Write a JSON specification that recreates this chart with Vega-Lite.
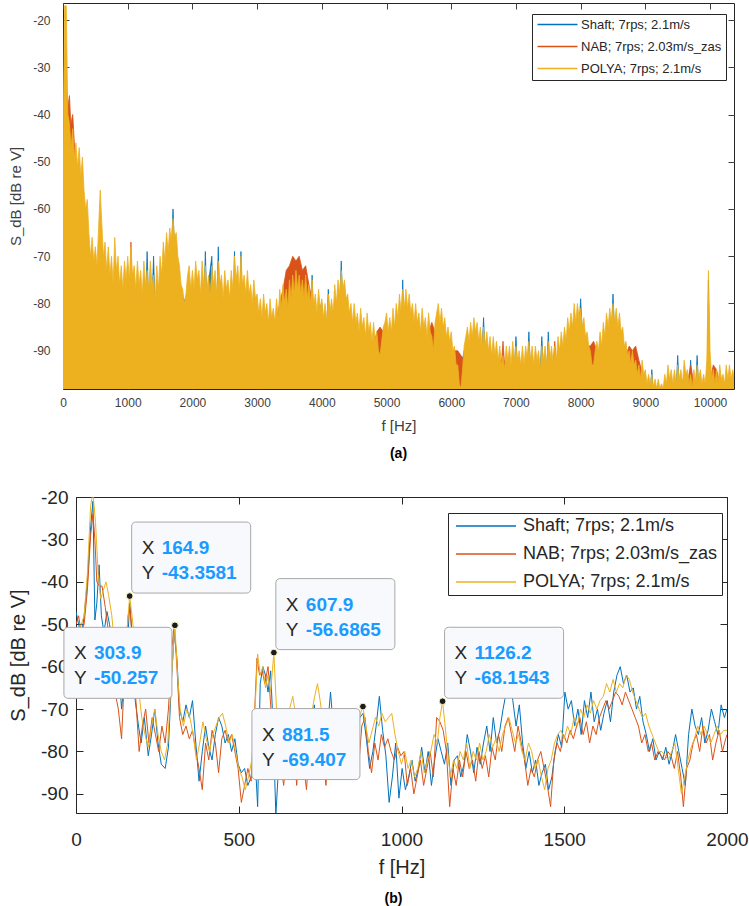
{
"$schema": "https://vega.github.io/schema/vega-lite/v6.json",
"background": "white",
"padding": {"left": 7, "top": 2, "right": 0, "bottom": 0},
"config": {
  "view": {"stroke": "#262626", "strokeWidth": 1},
  "font": "Liberation Sans",
  "axis": {"grid": false, "domain": false, "titleFontWeight": "normal", "labelFlush": false, "labelOverlap": false}
},
"datasets": {
"ta_shaft": [{"f":0,"v":-47},{"f":20,"v":-30},{"f":40,"v":-36},{"f":60,"v":-45},{"f":100,"v":-49},{"f":200,"v":-53},{"f":300,"v":-58},{"f":400,"v":-72},{"f":500,"v":-74},{"f":600,"v":-71},{"f":700,"v":-76},{"f":800,"v":-77},{"f":900,"v":-79},{"f":1000,"v":-77},{"f":1100,"v":-79},{"f":1200,"v":-79},{"f":1280,"v":-79},{"f":1300,"v":-69},{"f":1320,"v":-79},{"f":1380,"v":-78},{"f":1400,"v":-70},{"f":1420,"v":-80},{"f":1500,"v":-76},{"f":1600,"v":-70},{"f":1680,"v":-68},{"f":1700,"v":-60},{"f":1720,"v":-68},{"f":1800,"v":-77},{"f":1900,"v":-80},{"f":2000,"v":-79},{"f":2100,"v":-79},{"f":2180,"v":-79},{"f":2200,"v":-69},{"f":2220,"v":-79},{"f":2300,"v":-70},{"f":2320,"v":-79},{"f":2380,"v":-79},{"f":2400,"v":-68},{"f":2420,"v":-80},{"f":2500,"v":-80},{"f":2600,"v":-79},{"f":2640,"v":-78},{"f":2650,"v":-69},{"f":2660,"v":-78},{"f":2700,"v":-79},{"f":2740,"v":-78},{"f":2750,"v":-69},{"f":2760,"v":-78},{"f":2800,"v":-80},{"f":2900,"v":-81},{"f":3000,"v":-84},{"f":3100,"v":-85},{"f":3200,"v":-85},{"f":3300,"v":-85},{"f":3400,"v":-82},{"f":3500,"v":-81},{"f":3600,"v":-79},{"f":3700,"v":-80},{"f":3800,"v":-81},{"f":3840,"v":-80},{"f":3850,"v":-74},{"f":3860,"v":-80},{"f":3900,"v":-83},{"f":4000,"v":-80},{"f":4020,"v":-85},{"f":4080,"v":-84},{"f":4100,"v":-77},{"f":4120,"v":-83},{"f":4200,"v":-81},{"f":4280,"v":-79},{"f":4300,"v":-71},{"f":4320,"v":-79},{"f":4400,"v":-84},{"f":4500,"v":-86},{"f":4600,"v":-87},{"f":4700,"v":-88},{"f":4800,"v":-90},{"f":4900,"v":-92},{"f":5000,"v":-87},{"f":5100,"v":-86},{"f":5200,"v":-83},{"f":5240,"v":-81},{"f":5250,"v":-75},{"f":5260,"v":-81},{"f":5300,"v":-82},{"f":5400,"v":-85},{"f":5500,"v":-87},{"f":5600,"v":-88},{"f":5700,"v":-91},{"f":5800,"v":-85},{"f":5900,"v":-88},{"f":6000,"v":-91},{"f":6100,"v":-97},{"f":6200,"v":-90},{"f":6300,"v":-88},{"f":6400,"v":-89},{"f":6480,"v":-89},{"f":6500,"v":-83},{"f":6520,"v":-90},{"f":6600,"v":-92},{"f":6700,"v":-93},{"f":6800,"v":-95},{"f":6900,"v":-93},{"f":6980,"v":-93},{"f":7000,"v":-87},{"f":7020,"v":-93},{"f":7100,"v":-94},{"f":7180,"v":-93},{"f":7200,"v":-86},{"f":7220,"v":-93},{"f":7300,"v":-93},{"f":7380,"v":-93},{"f":7400,"v":-87},{"f":7420,"v":-93},{"f":7480,"v":-93},{"f":7500,"v":-86},{"f":7520,"v":-93},{"f":7600,"v":-93},{"f":7700,"v":-90},{"f":7800,"v":-87},{"f":7900,"v":-84},{"f":7980,"v":-84},{"f":8000,"v":-79},{"f":8020,"v":-85},{"f":8100,"v":-90},{"f":8200,"v":-94},{"f":8300,"v":-90},{"f":8400,"v":-86},{"f":8480,"v":-85},{"f":8500,"v":-78},{"f":8520,"v":-85},{"f":8600,"v":-87},{"f":8700,"v":-92},{"f":8800,"v":-94},{"f":8900,"v":-97},{"f":9000,"v":-98},{"f":9080,"v":-98},{"f":9100,"v":-94},{"f":9120,"v":-98},{"f":9200,"v":-98},{"f":9300,"v":-98},{"f":9400,"v":-98},{"f":9480,"v":-97},{"f":9500,"v":-91},{"f":9520,"v":-97},{"f":9600,"v":-96},{"f":9680,"v":-97},{"f":9700,"v":-92},{"f":9720,"v":-98},{"f":9780,"v":-97},{"f":9800,"v":-91},{"f":9820,"v":-97},{"f":9900,"v":-98},{"f":9960,"v":-96},{"f":9975,"v":-75},{"f":9990,"v":-96},{"f":10100,"v":-98},{"f":10200,"v":-98},{"f":10300,"v":-98},{"f":10375,"v":-98}],
"ta_nab": [{"f":0,"v":-50},{"f":40,"v":-40},{"f":60,"v":-35},{"f":80,"v":-38},{"f":100,"v":-36},{"f":120,"v":-42},{"f":150,"v":-40},{"f":200,"v":-52},{"f":300,"v":-57},{"f":400,"v":-72},{"f":500,"v":-74},{"f":600,"v":-70},{"f":700,"v":-77},{"f":800,"v":-78},{"f":900,"v":-79},{"f":1000,"v":-77},{"f":1040,"v":-77},{"f":1050,"v":-67},{"f":1060,"v":-77},{"f":1100,"v":-79},{"f":1200,"v":-80},{"f":1300,"v":-79},{"f":1400,"v":-80},{"f":1500,"v":-76},{"f":1600,"v":-71},{"f":1700,"v":-67},{"f":1800,"v":-78},{"f":1900,"v":-80},{"f":2000,"v":-79},{"f":2100,"v":-80},{"f":2200,"v":-79},{"f":2300,"v":-80},{"f":2400,"v":-80},{"f":2500,"v":-80},{"f":2600,"v":-80},{"f":2700,"v":-80},{"f":2800,"v":-81},{"f":2900,"v":-82},{"f":3000,"v":-84},{"f":3100,"v":-85},{"f":3200,"v":-85},{"f":3300,"v":-83},{"f":3400,"v":-77},{"f":3450,"v":-73},{"f":3500,"v":-72},{"f":3550,"v":-70},{"f":3600,"v":-71},{"f":3650,"v":-70},{"f":3700,"v":-73},{"f":3750,"v":-72},{"f":3800,"v":-76},{"f":3900,"v":-82},{"f":4000,"v":-85},{"f":4100,"v":-84},{"f":4200,"v":-82},{"f":4300,"v":-80},{"f":4400,"v":-84},{"f":4500,"v":-86},{"f":4600,"v":-87},{"f":4700,"v":-88},{"f":4800,"v":-89},{"f":4850,"v":-86},{"f":4900,"v":-85},{"f":4950,"v":-86},{"f":5000,"v":-87},{"f":5100,"v":-86},{"f":5200,"v":-83},{"f":5300,"v":-83},{"f":5400,"v":-85},{"f":5500,"v":-87},{"f":5600,"v":-88},{"f":5700,"v":-84},{"f":5750,"v":-86},{"f":5800,"v":-86},{"f":5900,"v":-88},{"f":6000,"v":-90},{"f":6100,"v":-90},{"f":6150,"v":-91},{"f":6200,"v":-92},{"f":6300,"v":-89},{"f":6400,"v":-90},{"f":6500,"v":-91},{"f":6600,"v":-92},{"f":6700,"v":-92},{"f":6780,"v":-92},{"f":6800,"v":-88},{"f":6820,"v":-92},{"f":6900,"v":-94},{"f":7000,"v":-94},{"f":7100,"v":-94},{"f":7200,"v":-94},{"f":7300,"v":-94},{"f":7400,"v":-94},{"f":7500,"v":-94},{"f":7580,"v":-92},{"f":7600,"v":-88},{"f":7620,"v":-92},{"f":7700,"v":-91},{"f":7800,"v":-88},{"f":7900,"v":-85},{"f":8000,"v":-86},{"f":8100,"v":-89},{"f":8150,"v":-89},{"f":8200,"v":-88},{"f":8250,"v":-90},{"f":8300,"v":-91},{"f":8400,"v":-87},{"f":8500,"v":-85},{"f":8600,"v":-88},{"f":8700,"v":-91},{"f":8750,"v":-89},{"f":8800,"v":-90},{"f":8850,"v":-89},{"f":8900,"v":-92},{"f":9000,"v":-97},{"f":9100,"v":-98},{"f":9200,"v":-98},{"f":9300,"v":-98},{"f":9400,"v":-98},{"f":9500,"v":-98},{"f":9600,"v":-97},{"f":9650,"v":-97},{"f":9700,"v":-93},{"f":9750,"v":-97},{"f":9800,"v":-98},{"f":9900,"v":-98},{"f":9960,"v":-97},{"f":9975,"v":-80},{"f":9990,"v":-97},{"f":10050,"v":-93},{"f":10100,"v":-94},{"f":10150,"v":-97},{"f":10200,"v":-98},{"f":10300,"v":-97},{"f":10375,"v":-98}],
"ta_polya": [{"f":0,"v":-48},{"f":25,"v":-17},{"f":50,"v":-17},{"f":75,"v":-40},{"f":100,"v":-42},{"f":125,"v":-47},{"f":150,"v":-43},{"f":175,"v":-49},{"f":200,"v":-46},{"f":225,"v":-51},{"f":250,"v":-47},{"f":275,"v":-53},{"f":300,"v":-49},{"f":325,"v":-56},{"f":350,"v":-60},{"f":375,"v":-58},{"f":400,"v":-65},{"f":425,"v":-70},{"f":450,"v":-66},{"f":475,"v":-71},{"f":500,"v":-68},{"f":525,"v":-72},{"f":550,"v":-64},{"f":575,"v":-56},{"f":600,"v":-63},{"f":625,"v":-70},{"f":650,"v":-67},{"f":675,"v":-73},{"f":700,"v":-68},{"f":725,"v":-74},{"f":750,"v":-70},{"f":775,"v":-76},{"f":800,"v":-66},{"f":825,"v":-73},{"f":850,"v":-70},{"f":875,"v":-76},{"f":900,"v":-72},{"f":925,"v":-77},{"f":950,"v":-71},{"f":975,"v":-75},{"f":1000,"v":-70},{"f":1025,"v":-75},{"f":1050,"v":-68},{"f":1075,"v":-74},{"f":1100,"v":-72},{"f":1125,"v":-77},{"f":1150,"v":-71},{"f":1175,"v":-76},{"f":1200,"v":-73},{"f":1225,"v":-78},{"f":1250,"v":-71},{"f":1275,"v":-76},{"f":1300,"v":-73},{"f":1325,"v":-77},{"f":1350,"v":-71},{"f":1375,"v":-76},{"f":1400,"v":-74},{"f":1425,"v":-79},{"f":1450,"v":-72},{"f":1475,"v":-77},{"f":1500,"v":-70},{"f":1525,"v":-74},{"f":1550,"v":-67},{"f":1575,"v":-71},{"f":1600,"v":-65},{"f":1625,"v":-69},{"f":1650,"v":-64},{"f":1675,"v":-67},{"f":1700,"v":-62},{"f":1725,"v":-66},{"f":1750,"v":-65},{"f":1775,"v":-70},{"f":1800,"v":-72},{"f":1825,"v":-76},{"f":1850,"v":-77},{"f":1875,"v":-80},{"f":1900,"v":-78},{"f":1925,"v":-74},{"f":1950,"v":-72},{"f":1975,"v":-77},{"f":2000,"v":-73},{"f":2025,"v":-77},{"f":2050,"v":-71},{"f":2075,"v":-75},{"f":2100,"v":-73},{"f":2125,"v":-78},{"f":2150,"v":-71},{"f":2175,"v":-76},{"f":2200,"v":-72},{"f":2225,"v":-77},{"f":2250,"v":-74},{"f":2275,"v":-78},{"f":2300,"v":-72},{"f":2325,"v":-76},{"f":2350,"v":-73},{"f":2375,"v":-78},{"f":2400,"v":-71},{"f":2425,"v":-76},{"f":2450,"v":-74},{"f":2475,"v":-79},{"f":2500,"v":-73},{"f":2525,"v":-77},{"f":2550,"v":-75},{"f":2575,"v":-79},{"f":2600,"v":-73},{"f":2625,"v":-77},{"f":2650,"v":-70},{"f":2675,"v":-75},{"f":2700,"v":-72},{"f":2725,"v":-77},{"f":2750,"v":-70},{"f":2775,"v":-76},{"f":2800,"v":-74},{"f":2825,"v":-78},{"f":2850,"v":-73},{"f":2875,"v":-78},{"f":2900,"v":-76},{"f":2925,"v":-80},{"f":2950,"v":-75},{"f":2975,"v":-79},{"f":3000,"v":-78},{"f":3025,"v":-82},{"f":3050,"v":-79},{"f":3075,"v":-83},{"f":3100,"v":-78},{"f":3125,"v":-82},{"f":3150,"v":-80},{"f":3175,"v":-84},{"f":3200,"v":-79},{"f":3225,"v":-83},{"f":3250,"v":-81},{"f":3275,"v":-84},{"f":3300,"v":-79},{"f":3325,"v":-83},{"f":3350,"v":-77},{"f":3375,"v":-81},{"f":3400,"v":-76},{"f":3425,"v":-80},{"f":3450,"v":-77},{"f":3475,"v":-81},{"f":3500,"v":-75},{"f":3525,"v":-79},{"f":3550,"v":-74},{"f":3575,"v":-78},{"f":3600,"v":-73},{"f":3625,"v":-77},{"f":3650,"v":-74},{"f":3675,"v":-78},{"f":3700,"v":-75},{"f":3725,"v":-79},{"f":3750,"v":-74},{"f":3775,"v":-79},{"f":3800,"v":-76},{"f":3825,"v":-80},{"f":3850,"v":-75},{"f":3875,"v":-80},{"f":3900,"v":-78},{"f":3925,"v":-82},{"f":3950,"v":-77},{"f":3975,"v":-81},{"f":4000,"v":-79},{"f":4025,"v":-83},{"f":4050,"v":-80},{"f":4075,"v":-84},{"f":4100,"v":-78},{"f":4125,"v":-82},{"f":4150,"v":-79},{"f":4175,"v":-82},{"f":4200,"v":-76},{"f":4225,"v":-80},{"f":4250,"v":-75},{"f":4275,"v":-78},{"f":4300,"v":-73},{"f":4325,"v":-77},{"f":4350,"v":-75},{"f":4375,"v":-79},{"f":4400,"v":-78},{"f":4425,"v":-82},{"f":4450,"v":-80},{"f":4475,"v":-84},{"f":4500,"v":-80},{"f":4525,"v":-84},{"f":4550,"v":-82},{"f":4575,"v":-86},{"f":4600,"v":-81},{"f":4625,"v":-85},{"f":4650,"v":-83},{"f":4675,"v":-87},{"f":4700,"v":-82},{"f":4725,"v":-86},{"f":4750,"v":-84},{"f":4775,"v":-88},{"f":4800,"v":-84},{"f":4825,"v":-88},{"f":4850,"v":-86},{"f":4875,"v":-90},{"f":4900,"v":-91},{"f":4925,"v":-88},{"f":4950,"v":-85},{"f":4975,"v":-84},{"f":5000,"v":-82},{"f":5025,"v":-86},{"f":5050,"v":-83},{"f":5075,"v":-86},{"f":5100,"v":-81},{"f":5125,"v":-85},{"f":5150,"v":-80},{"f":5175,"v":-83},{"f":5200,"v":-78},{"f":5225,"v":-82},{"f":5250,"v":-77},{"f":5275,"v":-81},{"f":5300,"v":-77},{"f":5325,"v":-81},{"f":5350,"v":-78},{"f":5375,"v":-82},{"f":5400,"v":-80},{"f":5425,"v":-84},{"f":5450,"v":-80},{"f":5475,"v":-84},{"f":5500,"v":-82},{"f":5525,"v":-86},{"f":5550,"v":-81},{"f":5575,"v":-85},{"f":5600,"v":-83},{"f":5625,"v":-87},{"f":5650,"v":-82},{"f":5675,"v":-86},{"f":5700,"v":-87},{"f":5725,"v":-90},{"f":5750,"v":-84},{"f":5775,"v":-82},{"f":5800,"v":-80},{"f":5825,"v":-84},{"f":5850,"v":-81},{"f":5875,"v":-85},{"f":5900,"v":-83},{"f":5925,"v":-87},{"f":5950,"v":-85},{"f":5975,"v":-88},{"f":6000,"v":-86},{"f":6025,"v":-90},{"f":6050,"v":-89},{"f":6075,"v":-93},{"f":6100,"v":-93},{"f":6125,"v":-97},{"f":6150,"v":-98},{"f":6175,"v":-94},{"f":6200,"v":-89},{"f":6225,"v":-87},{"f":6250,"v":-85},{"f":6275,"v":-88},{"f":6300,"v":-84},{"f":6325,"v":-87},{"f":6350,"v":-83},{"f":6375,"v":-86},{"f":6400,"v":-84},{"f":6425,"v":-88},{"f":6450,"v":-85},{"f":6475,"v":-89},{"f":6500,"v":-85},{"f":6525,"v":-89},{"f":6550,"v":-86},{"f":6575,"v":-90},{"f":6600,"v":-87},{"f":6625,"v":-91},{"f":6650,"v":-87},{"f":6675,"v":-91},{"f":6700,"v":-88},{"f":6725,"v":-92},{"f":6750,"v":-89},{"f":6775,"v":-93},{"f":6800,"v":-91},{"f":6825,"v":-94},{"f":6850,"v":-89},{"f":6875,"v":-92},{"f":6900,"v":-89},{"f":6925,"v":-93},{"f":6950,"v":-88},{"f":6975,"v":-92},{"f":7000,"v":-89},{"f":7025,"v":-92},{"f":7050,"v":-90},{"f":7075,"v":-93},{"f":7100,"v":-89},{"f":7125,"v":-93},{"f":7150,"v":-89},{"f":7175,"v":-92},{"f":7200,"v":-88},{"f":7225,"v":-92},{"f":7250,"v":-89},{"f":7275,"v":-93},{"f":7300,"v":-89},{"f":7325,"v":-92},{"f":7350,"v":-90},{"f":7375,"v":-94},{"f":7400,"v":-89},{"f":7425,"v":-92},{"f":7450,"v":-89},{"f":7475,"v":-93},{"f":7500,"v":-88},{"f":7525,"v":-92},{"f":7550,"v":-89},{"f":7575,"v":-93},{"f":7600,"v":-89},{"f":7625,"v":-92},{"f":7650,"v":-87},{"f":7675,"v":-90},{"f":7700,"v":-86},{"f":7725,"v":-89},{"f":7750,"v":-85},{"f":7775,"v":-88},{"f":7800,"v":-83},{"f":7825,"v":-86},{"f":7850,"v":-82},{"f":7875,"v":-85},{"f":7900,"v":-80},{"f":7925,"v":-84},{"f":7950,"v":-80},{"f":7975,"v":-83},{"f":8000,"v":-81},{"f":8025,"v":-85},{"f":8050,"v":-83},{"f":8075,"v":-87},{"f":8100,"v":-86},{"f":8125,"v":-89},{"f":8150,"v":-90},{"f":8175,"v":-93},{"f":8200,"v":-93},{"f":8225,"v":-90},{"f":8250,"v":-88},{"f":8275,"v":-90},{"f":8300,"v":-86},{"f":8325,"v":-89},{"f":8350,"v":-84},{"f":8375,"v":-87},{"f":8400,"v":-82},{"f":8425,"v":-85},{"f":8450,"v":-81},{"f":8475,"v":-84},{"f":8500,"v":-80},{"f":8525,"v":-84},{"f":8550,"v":-81},{"f":8575,"v":-85},{"f":8600,"v":-82},{"f":8625,"v":-86},{"f":8650,"v":-85},{"f":8675,"v":-89},{"f":8700,"v":-88},{"f":8725,"v":-91},{"f":8750,"v":-90},{"f":8775,"v":-93},{"f":8800,"v":-90},{"f":8825,"v":-93},{"f":8850,"v":-92},{"f":8875,"v":-95},{"f":8900,"v":-93},{"f":8925,"v":-96},{"f":8950,"v":-92},{"f":8975,"v":-95},{"f":9000,"v":-94},{"f":9025,"v":-97},{"f":9050,"v":-95},{"f":9075,"v":-97},{"f":9100,"v":-95},{"f":9125,"v":-98},{"f":9150,"v":-96},{"f":9175,"v":-98},{"f":9200,"v":-96},{"f":9225,"v":-98},{"f":9250,"v":-97},{"f":9275,"v":-98},{"f":9300,"v":-95},{"f":9325,"v":-97},{"f":9350,"v":-93},{"f":9375,"v":-96},{"f":9400,"v":-94},{"f":9425,"v":-97},{"f":9450,"v":-94},{"f":9475,"v":-97},{"f":9500,"v":-93},{"f":9525,"v":-96},{"f":9550,"v":-94},{"f":9575,"v":-97},{"f":9600,"v":-92},{"f":9625,"v":-95},{"f":9650,"v":-94},{"f":9675,"v":-97},{"f":9700,"v":-95},{"f":9725,"v":-98},{"f":9750,"v":-94},{"f":9775,"v":-97},{"f":9800,"v":-93},{"f":9825,"v":-96},{"f":9850,"v":-94},{"f":9875,"v":-97},{"f":9900,"v":-95},{"f":9925,"v":-97},{"f":9950,"v":-92},{"f":9975,"v":-73},{"f":10000,"v":-90},{"f":10025,"v":-96},{"f":10050,"v":-94},{"f":10075,"v":-97},{"f":10100,"v":-94},{"f":10125,"v":-97},{"f":10150,"v":-93},{"f":10175,"v":-96},{"f":10200,"v":-95},{"f":10225,"v":-97},{"f":10250,"v":-93},{"f":10275,"v":-96},{"f":10300,"v":-93},{"f":10325,"v":-96},{"f":10350,"v":-94},{"f":10375,"v":-96}],
"b_shaft": [{"f":0,"v":-47},{"f":8,"v":-50},{"f":16,"v":-53},{"f":25,"v":-48},{"f":35,"v":-40},{"f":45,"v":-27},{"f":52,"v":-21},{"f":58,"v":-49},{"f":64,"v":-45},{"f":71,"v":-36},{"f":78,"v":-48},{"f":86,"v":-52},{"f":95,"v":-47},{"f":103,"v":-50},{"f":112,"v":-55},{"f":120,"v":-60},{"f":130,"v":-58},{"f":140,"v":-70},{"f":150,"v":-62},{"f":158,"v":-55},{"f":165,"v":-45},{"f":172,"v":-52},{"f":182,"v":-68},{"f":192,"v":-74},{"f":200,"v":-78},{"f":210,"v":-72},{"f":222,"v":-81},{"f":232,"v":-76},{"f":242,"v":-70},{"f":252,"v":-78},{"f":262,"v":-83},{"f":274,"v":-84},{"f":284,"v":-79},{"f":294,"v":-62},{"f":302,"v":-52},{"f":310,"v":-58},{"f":318,"v":-70},{"f":328,"v":-73},{"f":338,"v":-69},{"f":348,"v":-72},{"f":358,"v":-68},{"f":368,"v":-78},{"f":378,"v":-87},{"f":388,"v":-80},{"f":398,"v":-74},{"f":408,"v":-79},{"f":418,"v":-82},{"f":428,"v":-76},{"f":438,"v":-72},{"f":448,"v":-74},{"f":458,"v":-78},{"f":468,"v":-76},{"f":478,"v":-80},{"f":488,"v":-77},{"f":498,"v":-83},{"f":508,"v":-85},{"f":518,"v":-84},{"f":528,"v":-88},{"f":538,"v":-86},{"f":548,"v":-78},{"f":558,"v":-93},{"f":566,"v":-64},{"f":574,"v":-60},{"f":582,"v":-62},{"f":590,"v":-66},{"f":598,"v":-61},{"f":606,"v":-75},{"f":614,"v":-95},{"f":622,"v":-84},{"f":632,"v":-79},{"f":642,"v":-76},{"f":652,"v":-84},{"f":662,"v":-80},{"f":672,"v":-75},{"f":682,"v":-82},{"f":692,"v":-70},{"f":702,"v":-76},{"f":712,"v":-72},{"f":722,"v":-80},{"f":732,"v":-69},{"f":742,"v":-78},{"f":752,"v":-72},{"f":762,"v":-83},{"f":772,"v":-75},{"f":782,"v":-66},{"f":792,"v":-76},{"f":802,"v":-82},{"f":812,"v":-78},{"f":822,"v":-74},{"f":832,"v":-80},{"f":842,"v":-76},{"f":852,"v":-82},{"f":862,"v":-78},{"f":872,"v":-72},{"f":882,"v":-71},{"f":892,"v":-77},{"f":902,"v":-84},{"f":912,"v":-80},{"f":922,"v":-74},{"f":932,"v":-67},{"f":942,"v":-75},{"f":952,"v":-81},{"f":962,"v":-92},{"f":972,"v":-86},{"f":982,"v":-78},{"f":992,"v":-91},{"f":1002,"v":-84},{"f":1012,"v":-89},{"f":1022,"v":-86},{"f":1032,"v":-82},{"f":1042,"v":-87},{"f":1052,"v":-84},{"f":1062,"v":-79},{"f":1072,"v":-85},{"f":1082,"v":-80},{"f":1092,"v":-88},{"f":1102,"v":-82},{"f":1112,"v":-77},{"f":1122,"v":-80},{"f":1132,"v":-83},{"f":1142,"v":-78},{"f":1152,"v":-88},{"f":1162,"v":-82},{"f":1172,"v":-81},{"f":1182,"v":-86},{"f":1192,"v":-83},{"f":1202,"v":-76},{"f":1212,"v":-80},{"f":1222,"v":-85},{"f":1232,"v":-79},{"f":1242,"v":-83},{"f":1252,"v":-78},{"f":1262,"v":-74},{"f":1272,"v":-80},{"f":1282,"v":-72},{"f":1292,"v":-78},{"f":1302,"v":-75},{"f":1312,"v":-70},{"f":1322,"v":-66},{"f":1332,"v":-62},{"f":1342,"v":-68},{"f":1352,"v":-74},{"f":1362,"v":-69},{"f":1372,"v":-78},{"f":1382,"v":-84},{"f":1392,"v":-80},{"f":1402,"v":-85},{"f":1412,"v":-82},{"f":1422,"v":-88},{"f":1432,"v":-85},{"f":1442,"v":-83},{"f":1452,"v":-89},{"f":1462,"v":-86},{"f":1472,"v":-80},{"f":1482,"v":-76},{"f":1492,"v":-79},{"f":1502,"v":-66},{"f":1512,"v":-70},{"f":1522,"v":-68},{"f":1532,"v":-74},{"f":1542,"v":-70},{"f":1552,"v":-76},{"f":1562,"v":-68},{"f":1572,"v":-72},{"f":1582,"v":-66},{"f":1592,"v":-73},{"f":1602,"v":-70},{"f":1612,"v":-75},{"f":1622,"v":-71},{"f":1632,"v":-68},{"f":1642,"v":-73},{"f":1652,"v":-66},{"f":1662,"v":-62},{"f":1672,"v":-60},{"f":1682,"v":-64},{"f":1692,"v":-62},{"f":1702,"v":-66},{"f":1712,"v":-65},{"f":1722,"v":-70},{"f":1732,"v":-67},{"f":1742,"v":-73},{"f":1752,"v":-76},{"f":1762,"v":-80},{"f":1772,"v":-77},{"f":1782,"v":-82},{"f":1792,"v":-80},{"f":1802,"v":-82},{"f":1812,"v":-79},{"f":1822,"v":-83},{"f":1832,"v":-80},{"f":1842,"v":-76},{"f":1852,"v":-80},{"f":1862,"v":-84},{"f":1872,"v":-88},{"f":1882,"v":-76},{"f":1892,"v":-70},{"f":1902,"v":-74},{"f":1912,"v":-76},{"f":1922,"v":-72},{"f":1932,"v":-78},{"f":1942,"v":-75},{"f":1952,"v":-70},{"f":1962,"v":-73},{"f":1972,"v":-76},{"f":1982,"v":-69},{"f":1992,"v":-72},{"f":2000,"v":-70}],
"b_nab": [{"f":0,"v":-50},{"f":8,"v":-48},{"f":16,"v":-52},{"f":25,"v":-50},{"f":35,"v":-42},{"f":45,"v":-29},{"f":52,"v":-24},{"f":58,"v":-30},{"f":64,"v":-40},{"f":72,"v":-41},{"f":80,"v":-41},{"f":90,"v":-46},{"f":100,"v":-52},{"f":110,"v":-58},{"f":120,"v":-66},{"f":130,"v":-70},{"f":140,"v":-77},{"f":150,"v":-60},{"f":160,"v":-48},{"f":166,"v":-46},{"f":174,"v":-56},{"f":184,"v":-68},{"f":194,"v":-80},{"f":204,"v":-74},{"f":214,"v":-70},{"f":224,"v":-78},{"f":234,"v":-72},{"f":244,"v":-76},{"f":254,"v":-80},{"f":264,"v":-74},{"f":274,"v":-78},{"f":284,"v":-70},{"f":294,"v":-56},{"f":302,"v":-50},{"f":310,"v":-60},{"f":318,"v":-72},{"f":328,"v":-76},{"f":338,"v":-74},{"f":348,"v":-77},{"f":358,"v":-75},{"f":368,"v":-80},{"f":378,"v":-84},{"f":388,"v":-89},{"f":398,"v":-78},{"f":408,"v":-82},{"f":418,"v":-75},{"f":428,"v":-78},{"f":438,"v":-85},{"f":448,"v":-77},{"f":458,"v":-75},{"f":468,"v":-78},{"f":478,"v":-76},{"f":488,"v":-80},{"f":498,"v":-84},{"f":508,"v":-92},{"f":518,"v":-88},{"f":528,"v":-84},{"f":538,"v":-87},{"f":548,"v":-72},{"f":556,"v":-58},{"f":564,"v":-62},{"f":572,"v":-61},{"f":580,"v":-64},{"f":590,"v":-60},{"f":598,"v":-69},{"f":608,"v":-78},{"f":618,"v":-86},{"f":628,"v":-82},{"f":638,"v":-88},{"f":648,"v":-80},{"f":658,"v":-85},{"f":668,"v":-78},{"f":678,"v":-88},{"f":688,"v":-76},{"f":698,"v":-82},{"f":708,"v":-89},{"f":718,"v":-78},{"f":728,"v":-84},{"f":738,"v":-80},{"f":748,"v":-86},{"f":758,"v":-81},{"f":768,"v":-88},{"f":778,"v":-76},{"f":788,"v":-83},{"f":798,"v":-86},{"f":808,"v":-79},{"f":818,"v":-84},{"f":828,"v":-80},{"f":838,"v":-86},{"f":848,"v":-82},{"f":858,"v":-78},{"f":868,"v":-84},{"f":878,"v":-74},{"f":888,"v":-72},{"f":898,"v":-80},{"f":908,"v":-85},{"f":918,"v":-78},{"f":928,"v":-82},{"f":938,"v":-76},{"f":948,"v":-79},{"f":958,"v":-77},{"f":968,"v":-80},{"f":978,"v":-82},{"f":988,"v":-79},{"f":998,"v":-81},{"f":1008,"v":-80},{"f":1018,"v":-88},{"f":1028,"v":-84},{"f":1038,"v":-90},{"f":1048,"v":-86},{"f":1058,"v":-82},{"f":1068,"v":-88},{"f":1078,"v":-84},{"f":1088,"v":-80},{"f":1098,"v":-86},{"f":1108,"v":-72},{"f":1118,"v":-73},{"f":1128,"v":-75},{"f":1138,"v":-80},{"f":1148,"v":-93},{"f":1158,"v":-84},{"f":1168,"v":-88},{"f":1178,"v":-82},{"f":1188,"v":-86},{"f":1198,"v":-80},{"f":1208,"v":-84},{"f":1218,"v":-82},{"f":1228,"v":-87},{"f":1238,"v":-80},{"f":1248,"v":-84},{"f":1258,"v":-81},{"f":1268,"v":-86},{"f":1278,"v":-79},{"f":1288,"v":-82},{"f":1298,"v":-76},{"f":1308,"v":-80},{"f":1318,"v":-74},{"f":1328,"v":-72},{"f":1338,"v":-76},{"f":1348,"v":-80},{"f":1358,"v":-74},{"f":1368,"v":-78},{"f":1378,"v":-82},{"f":1388,"v":-88},{"f":1398,"v":-84},{"f":1408,"v":-86},{"f":1418,"v":-82},{"f":1428,"v":-80},{"f":1438,"v":-84},{"f":1448,"v":-88},{"f":1458,"v":-93},{"f":1468,"v":-82},{"f":1478,"v":-78},{"f":1488,"v":-80},{"f":1498,"v":-76},{"f":1508,"v":-78},{"f":1518,"v":-75},{"f":1528,"v":-77},{"f":1538,"v":-74},{"f":1548,"v":-72},{"f":1558,"v":-76},{"f":1568,"v":-73},{"f":1578,"v":-78},{"f":1588,"v":-74},{"f":1598,"v":-76},{"f":1608,"v":-72},{"f":1618,"v":-70},{"f":1628,"v":-68},{"f":1638,"v":-70},{"f":1648,"v":-68},{"f":1658,"v":-66},{"f":1668,"v":-67},{"f":1678,"v":-69},{"f":1688,"v":-66},{"f":1698,"v":-68},{"f":1708,"v":-70},{"f":1718,"v":-72},{"f":1728,"v":-74},{"f":1738,"v":-78},{"f":1748,"v":-76},{"f":1758,"v":-80},{"f":1768,"v":-78},{"f":1778,"v":-82},{"f":1788,"v":-80},{"f":1798,"v":-81},{"f":1808,"v":-82},{"f":1818,"v":-80},{"f":1828,"v":-81},{"f":1838,"v":-84},{"f":1848,"v":-80},{"f":1858,"v":-86},{"f":1866,"v":-93},{"f":1876,"v":-84},{"f":1886,"v":-82},{"f":1896,"v":-78},{"f":1906,"v":-76},{"f":1916,"v":-80},{"f":1926,"v":-74},{"f":1936,"v":-78},{"f":1946,"v":-76},{"f":1956,"v":-82},{"f":1966,"v":-78},{"f":1976,"v":-75},{"f":1986,"v":-80},{"f":1996,"v":-77},{"f":2000,"v":-76}],
"b_polya": [{"f":0,"v":-52},{"f":8,"v":-54},{"f":16,"v":-50},{"f":25,"v":-48},{"f":35,"v":-38},{"f":45,"v":-22},{"f":52,"v":-19},{"f":60,"v":-26},{"f":68,"v":-38},{"f":76,"v":-44},{"f":84,"v":-42},{"f":92,"v":-40},{"f":100,"v":-43},{"f":110,"v":-48},{"f":120,"v":-56},{"f":130,"v":-62},{"f":140,"v":-68},{"f":150,"v":-58},{"f":164.9,"v":-43.3581},{"f":172,"v":-48},{"f":182,"v":-55},{"f":192,"v":-65},{"f":202,"v":-72},{"f":212,"v":-76},{"f":222,"v":-79},{"f":232,"v":-74},{"f":242,"v":-70},{"f":252,"v":-76},{"f":262,"v":-80},{"f":272,"v":-82},{"f":282,"v":-78},{"f":292,"v":-64},{"f":303.9,"v":-50.257},{"f":312,"v":-62},{"f":320,"v":-70},{"f":330,"v":-74},{"f":340,"v":-70},{"f":350,"v":-72},{"f":360,"v":-76},{"f":370,"v":-82},{"f":380,"v":-78},{"f":390,"v":-73},{"f":400,"v":-77},{"f":410,"v":-80},{"f":420,"v":-76},{"f":430,"v":-74},{"f":440,"v":-72},{"f":450,"v":-71},{"f":460,"v":-74},{"f":470,"v":-78},{"f":480,"v":-76},{"f":490,"v":-80},{"f":500,"v":-84},{"f":510,"v":-86},{"f":520,"v":-89},{"f":530,"v":-86},{"f":540,"v":-82},{"f":550,"v":-70},{"f":558,"v":-57},{"f":566,"v":-62},{"f":574,"v":-60},{"f":582,"v":-65},{"f":590,"v":-62},{"f":598,"v":-66},{"f":607.9,"v":-56.6865},{"f":616,"v":-70},{"f":626,"v":-76},{"f":636,"v":-72},{"f":646,"v":-75},{"f":656,"v":-70},{"f":666,"v":-67},{"f":676,"v":-72},{"f":686,"v":-78},{"f":696,"v":-75},{"f":706,"v":-70},{"f":716,"v":-74},{"f":726,"v":-70},{"f":736,"v":-66},{"f":742,"v":-64},{"f":750,"v":-68},{"f":760,"v":-74},{"f":770,"v":-72},{"f":780,"v":-76},{"f":790,"v":-72},{"f":800,"v":-75},{"f":810,"v":-80},{"f":820,"v":-77},{"f":830,"v":-82},{"f":840,"v":-76},{"f":850,"v":-80},{"f":860,"v":-76},{"f":870,"v":-72},{"f":881.5,"v":-69.407},{"f":890,"v":-74},{"f":900,"v":-78},{"f":910,"v":-75},{"f":920,"v":-72},{"f":930,"v":-74},{"f":940,"v":-71},{"f":950,"v":-73},{"f":960,"v":-72},{"f":970,"v":-71},{"f":980,"v":-76},{"f":990,"v":-80},{"f":1000,"v":-83},{"f":1010,"v":-80},{"f":1020,"v":-84},{"f":1030,"v":-82},{"f":1040,"v":-86},{"f":1050,"v":-84},{"f":1060,"v":-80},{"f":1070,"v":-85},{"f":1080,"v":-82},{"f":1090,"v":-80},{"f":1100,"v":-76},{"f":1110,"v":-78},{"f":1118,"v":-72},{"f":1126.2,"v":-68.1543},{"f":1134,"v":-74},{"f":1142,"v":-80},{"f":1150,"v":-86},{"f":1160,"v":-82},{"f":1170,"v":-84},{"f":1180,"v":-80},{"f":1190,"v":-82},{"f":1200,"v":-78},{"f":1210,"v":-84},{"f":1220,"v":-80},{"f":1230,"v":-82},{"f":1240,"v":-78},{"f":1250,"v":-82},{"f":1260,"v":-80},{"f":1270,"v":-76},{"f":1280,"v":-79},{"f":1290,"v":-77},{"f":1300,"v":-80},{"f":1310,"v":-76},{"f":1320,"v":-74},{"f":1330,"v":-72},{"f":1340,"v":-75},{"f":1350,"v":-78},{"f":1360,"v":-76},{"f":1370,"v":-80},{"f":1380,"v":-82},{"f":1390,"v":-78},{"f":1400,"v":-80},{"f":1410,"v":-84},{"f":1420,"v":-82},{"f":1430,"v":-86},{"f":1440,"v":-89},{"f":1450,"v":-84},{"f":1460,"v":-82},{"f":1470,"v":-78},{"f":1480,"v":-76},{"f":1490,"v":-75},{"f":1500,"v":-77},{"f":1510,"v":-74},{"f":1520,"v":-76},{"f":1530,"v":-72},{"f":1540,"v":-74},{"f":1550,"v":-70},{"f":1560,"v":-72},{"f":1570,"v":-69},{"f":1580,"v":-71},{"f":1590,"v":-68},{"f":1600,"v":-70},{"f":1610,"v":-68},{"f":1620,"v":-67},{"f":1630,"v":-64},{"f":1640,"v":-66},{"f":1650,"v":-63},{"f":1660,"v":-66},{"f":1670,"v":-64},{"f":1680,"v":-65},{"f":1690,"v":-62},{"f":1700,"v":-63},{"f":1710,"v":-66},{"f":1720,"v":-68},{"f":1730,"v":-70},{"f":1740,"v":-72},{"f":1750,"v":-71},{"f":1760,"v":-74},{"f":1770,"v":-76},{"f":1780,"v":-78},{"f":1790,"v":-80},{"f":1800,"v":-80},{"f":1810,"v":-81},{"f":1820,"v":-82},{"f":1830,"v":-80},{"f":1840,"v":-78},{"f":1850,"v":-84},{"f":1860,"v":-90},{"f":1870,"v":-86},{"f":1880,"v":-82},{"f":1890,"v":-79},{"f":1900,"v":-77},{"f":1910,"v":-74},{"f":1920,"v":-76},{"f":1930,"v":-74},{"f":1940,"v":-76},{"f":1950,"v":-78},{"f":1960,"v":-76},{"f":1970,"v":-74},{"f":1980,"v":-76},{"f":1990,"v":-75},{"f":2000,"v":-75}],
"tips": [
 {"f":164.9,"S":-43.3581,"corner":"ur","lab":["164.9","-43.3581"]},
 {"f":303.9,"S":-50.257,"corner":"dl","lab":["303.9","-50.257"]},
 {"f":607.9,"S":-56.6865,"corner":"ur","lab":["607.9","-56.6865"]},
 {"f":881.5,"S":-69.407,"corner":"dl","lab":["881.5","-69.407"]},
 {"f":1126.2,"S":-68.1543,"corner":"ur","lab":["1126.2","-68.1543"]}
],
"nothing": []
},
"resolve": {"scale": {"color": "independent"}, "legend": {"color": "independent"}},
"spacing": 25,
"vconcat": [
{"resolve": {"scale": {"color": "independent"}, "legend": {"color": "independent"}},
 "spacing": 0,
 "hconcat": [
{"width": 1, "height": 1, "data": {"name": "nothing"}, "mark": {"type": "point", "opacity": 0}, "view": {"stroke": null}},
{
 "width": 671, "height": 386,
 "title": {"text": "(a)", "orient": "bottom", "fontSize": 14, "fontWeight": "bold", "color": "#000000", "offset": 14},
 "layer": [
  {"data": {"name": "ta_shaft"}, "mark": {"type": "area", "clip": true, "color": "#0072BD"},
   "encoding": {
     "x": {"field": "f", "type": "quantitative", "scale": {"domain": [0, 10370], "nice": false},
           "axis": {"orient": "bottom", "values": [0,1000,2000,3000,4000,5000,6000,7000,8000,9000,10000], "labelExpr": "'' + datum.value", "labelFontSize": 12, "labelColor": "#404040", "tickColor": "#404040", "tickSize": -6, "labelPadding": 14, "title": "f [Hz]", "titleFontSize": 15, "titleColor": "#404040", "titlePadding": 10}},
     "y": {"field": "v", "type": "quantitative", "scale": {"domain": [-98.1, -16.4], "nice": false, "zero": false},
           "axis": {"orient": "left", "values": [-20,-30,-40,-50,-60,-70,-80,-90], "labelExpr": "'' + datum.value", "labelFontSize": 12, "labelColor": "#404040", "tickColor": "#404040", "tickSize": -6, "labelPadding": 19, "title": "S_dB [dB re V]", "titleFontSize": 15, "titleColor": "#404040", "titlePadding": 9}},
     "y2": {"datum": -98.1}}},
  {"data": {"name": "ta_shaft"}, "mark": {"type": "line", "clip": true, "strokeWidth": 0.8},
   "encoding": {
     "x": {"field": "f", "type": "quantitative", "axis": null},
     "y": {"field": "v", "type": "quantitative", "axis": null},
     "color": {"datum": "Shaft; 7rps; 2.1m/s", "type": "nominal",
        "scale": {"domain": ["Shaft; 7rps; 2.1m/s", "NAB; 7rps; 2.03m/s_zas", "POLYA; 7rps; 2.1m/s"], "range": ["#0072BD", "#D95319", "#EDB120"]},
        "legend": {"orient": "none", "legendX": 469, "legendY": 11, "title": null, "symbolType": "M-1,0H7", "symbolSize": 100, "symbolStrokeWidth": 1.5, "labelFontSize": 13, "labelColor": "#262626", "strokeColor": "#262626", "fillColor": "white", "padding": 4, "rowPadding": 8, "labelOffset": 32, "labelLimit": 400}}}},
  {"data": {"name": "ta_nab"}, "mark": {"type": "area", "clip": true, "color": "#D95319"},
   "encoding": {
     "x": {"field": "f", "type": "quantitative", "axis": null},
     "y": {"field": "v", "type": "quantitative", "axis": null},
     "y2": {"datum": -98.1}}},
  {"data": {"name": "ta_nab"}, "mark": {"type": "line", "clip": true, "strokeWidth": 0.8},
   "encoding": {
     "x": {"field": "f", "type": "quantitative", "axis": null},
     "y": {"field": "v", "type": "quantitative", "axis": null},
     "color": {"datum": "NAB; 7rps; 2.03m/s_zas", "type": "nominal"}}},
  {"data": {"name": "ta_polya"}, "mark": {"type": "area", "clip": true, "color": "#EDB120"},
   "encoding": {
     "x": {"field": "f", "type": "quantitative", "axis": null},
     "y": {"field": "v", "type": "quantitative", "axis": null},
     "y2": {"datum": -98.1}}},
  {"data": {"name": "ta_polya"}, "mark": {"type": "line", "clip": true, "strokeWidth": 0.8},
   "encoding": {
     "x": {"field": "f", "type": "quantitative", "axis": {"orient": "top", "values": [0,1000,2000,3000,4000,5000,6000,7000,8000,9000,10000], "labels": false, "tickSize": -6, "tickColor": "#404040", "title": null}},
     "y": {"field": "v", "type": "quantitative", "axis": {"orient": "right", "values": [-20,-30,-40,-50,-60,-70,-80,-90], "labels": false, "tickSize": -6, "tickColor": "#404040", "title": null}},
     "color": {"datum": "POLYA; 7rps; 2.1m/s", "type": "nominal"}}}
 ]
}
]},
{"resolve": {"scale": {"color": "independent"}, "legend": {"color": "independent"}},
 "spacing": 0,
 "hconcat": [
{"width": 1, "height": 1, "data": {"name": "nothing"}, "mark": {"type": "point", "opacity": 0}, "view": {"stroke": null}},
{
 "width": 651, "height": 316,
 "title": {"text": "(b)", "orient": "bottom", "fontSize": 14, "fontWeight": "bold", "color": "#000000", "offset": 15, "dx": -8},
 "layer": [
  {"data": {"name": "b_shaft"}, "mark": {"type": "line", "clip": true, "strokeWidth": 1},
   "encoding": {
     "x": {"field": "f", "type": "quantitative", "scale": {"domain": [0, 2000], "nice": false},
           "axis": {"orient": "bottom", "values": [0,500,1000,1500,2000], "labelExpr": "'' + datum.value", "labelFontSize": 19, "labelColor": "#262626", "tickColor": "#262626", "tickSize": -7, "labelPadding": 24, "title": "f [Hz]", "titleFontSize": 20, "titleColor": "#262626", "titlePadding": 8}},
     "y": {"field": "v", "type": "quantitative", "scale": {"domain": [-94.5, -20], "nice": false, "zero": false},
           "axis": {"orient": "left", "values": [-20,-30,-40,-50,-60,-70,-80,-90], "labelExpr": "'' + datum.value", "labelFontSize": 19, "labelColor": "#262626", "tickColor": "#262626", "tickSize": -7, "labelPadding": 15, "title": "S_dB [dB re V]", "titleFontSize": 20, "titleColor": "#262626", "titlePadding": 12}},
     "color": {"datum": "Shaft; 7rps; 2.1m/s", "type": "nominal",
        "scale": {"domain": ["Shaft; 7rps; 2.1m/s", "NAB; 7rps; 2.03m/s_zas", "POLYA; 7rps; 2.1m/s"], "range": ["#0072BD", "#D95319", "#EDB120"]},
        "legend": {"orient": "none", "legendX": 372, "legendY": 16, "title": null, "symbolType": "M-1,0H11", "symbolSize": 100, "symbolStrokeWidth": 1.5, "labelFontSize": 18, "labelColor": "#262626", "strokeColor": "#262626", "fillColor": "white", "padding": 4, "rowPadding": 10, "labelOffset": 53, "labelLimit": 400}}}},
  {"data": {"name": "b_nab"}, "mark": {"type": "line", "clip": true, "strokeWidth": 1},
   "encoding": {
     "x": {"field": "f", "type": "quantitative", "axis": null},
     "y": {"field": "v", "type": "quantitative", "axis": null},
     "color": {"datum": "NAB; 7rps; 2.03m/s_zas", "type": "nominal"}}},
  {"data": {"name": "b_polya"}, "mark": {"type": "line", "clip": true, "strokeWidth": 1},
   "encoding": {
     "x": {"field": "f", "type": "quantitative", "axis": {"orient": "top", "values": [0,500,1000,1500,2000], "labels": false, "tickSize": -7, "tickColor": "#262626", "title": null}},
     "y": {"field": "v", "type": "quantitative", "axis": {"orient": "right", "values": [-20,-30,-40,-50,-60,-70,-80,-90], "labels": false, "tickSize": -7, "tickColor": "#262626", "title": null}},
     "color": {"datum": "POLYA; 7rps; 2.1m/s", "type": "nominal"}}},
  {"data": {"name": "tips"}, "transform": [{"filter": "datum.corner == 'ur'"}],
   "mark": {"type": "rect", "clip": false, "fill": "#f8f9fc", "stroke": "#a8a8a8", "strokeWidth": 1, "cornerRadius": 4, "xOffset": 2, "x2Offset": 121, "yOffset": -3, "y2Offset": -74},
   "encoding": {
     "x": {"field": "f", "type": "quantitative", "axis": null}, "x2": {"field": "f"},
     "y": {"field": "S", "type": "quantitative", "axis": null}, "y2": {"field": "S"}}},
  {"data": {"name": "tips"}, "transform": [{"filter": "datum.corner == 'dl'"}],
   "mark": {"type": "rect", "clip": false, "fill": "#f8f9fc", "stroke": "#a8a8a8", "strokeWidth": 1, "cornerRadius": 4, "xOffset": -111, "x2Offset": -3, "yOffset": 2, "y2Offset": 73},
   "encoding": {
     "x": {"field": "f", "type": "quantitative", "axis": null}, "x2": {"field": "f"},
     "y": {"field": "S", "type": "quantitative", "axis": null}, "y2": {"field": "S"}}},
  {"data": {"name": "tips"}, "transform": [{"filter": "datum.corner == 'ur'"}],
   "mark": {"type": "text", "clip": false, "align": "left", "baseline": "alphabetic", "dx": 12, "dy": -42, "lineHeight": 25, "fontSize": 19, "color": "#262626"},
   "encoding": {
     "x": {"field": "f", "type": "quantitative", "axis": null},
     "y": {"field": "S", "type": "quantitative", "axis": null},
     "text": {"value": ["X", "Y"]}}},
  {"data": {"name": "tips"}, "transform": [{"filter": "datum.corner == 'ur'"}],
   "mark": {"type": "text", "clip": false, "align": "left", "baseline": "alphabetic", "dx": 32, "dy": -42, "lineHeight": 25, "fontSize": 19, "fontWeight": "bold", "color": "#1a9cff"},
   "encoding": {
     "x": {"field": "f", "type": "quantitative", "axis": null},
     "y": {"field": "S", "type": "quantitative", "axis": null},
     "text": {"field": "lab"}}},
  {"data": {"name": "tips"}, "transform": [{"filter": "datum.corner == 'dl'"}],
   "mark": {"type": "text", "clip": false, "align": "left", "baseline": "alphabetic", "dx": -101, "dy": 34, "lineHeight": 25, "fontSize": 19, "color": "#262626"},
   "encoding": {
     "x": {"field": "f", "type": "quantitative", "axis": null},
     "y": {"field": "S", "type": "quantitative", "axis": null},
     "text": {"value": ["X", "Y"]}}},
  {"data": {"name": "tips"}, "transform": [{"filter": "datum.corner == 'dl'"}],
   "mark": {"type": "text", "clip": false, "align": "left", "baseline": "alphabetic", "dx": -81, "dy": 34, "lineHeight": 25, "fontSize": 19, "fontWeight": "bold", "color": "#1a9cff"},
   "encoding": {
     "x": {"field": "f", "type": "quantitative", "axis": null},
     "y": {"field": "S", "type": "quantitative", "axis": null},
     "text": {"field": "lab"}}},
  {"data": {"name": "tips"},
   "mark": {"type": "point", "clip": false, "filled": true, "size": 45, "fill": "#1c1c1c", "stroke": "#fff8c0", "strokeWidth": 1, "opacity": 1},
   "encoding": {
     "x": {"field": "f", "type": "quantitative", "axis": null},
     "y": {"field": "S", "type": "quantitative", "axis": null}}}
 ]
}
]}
]
}
